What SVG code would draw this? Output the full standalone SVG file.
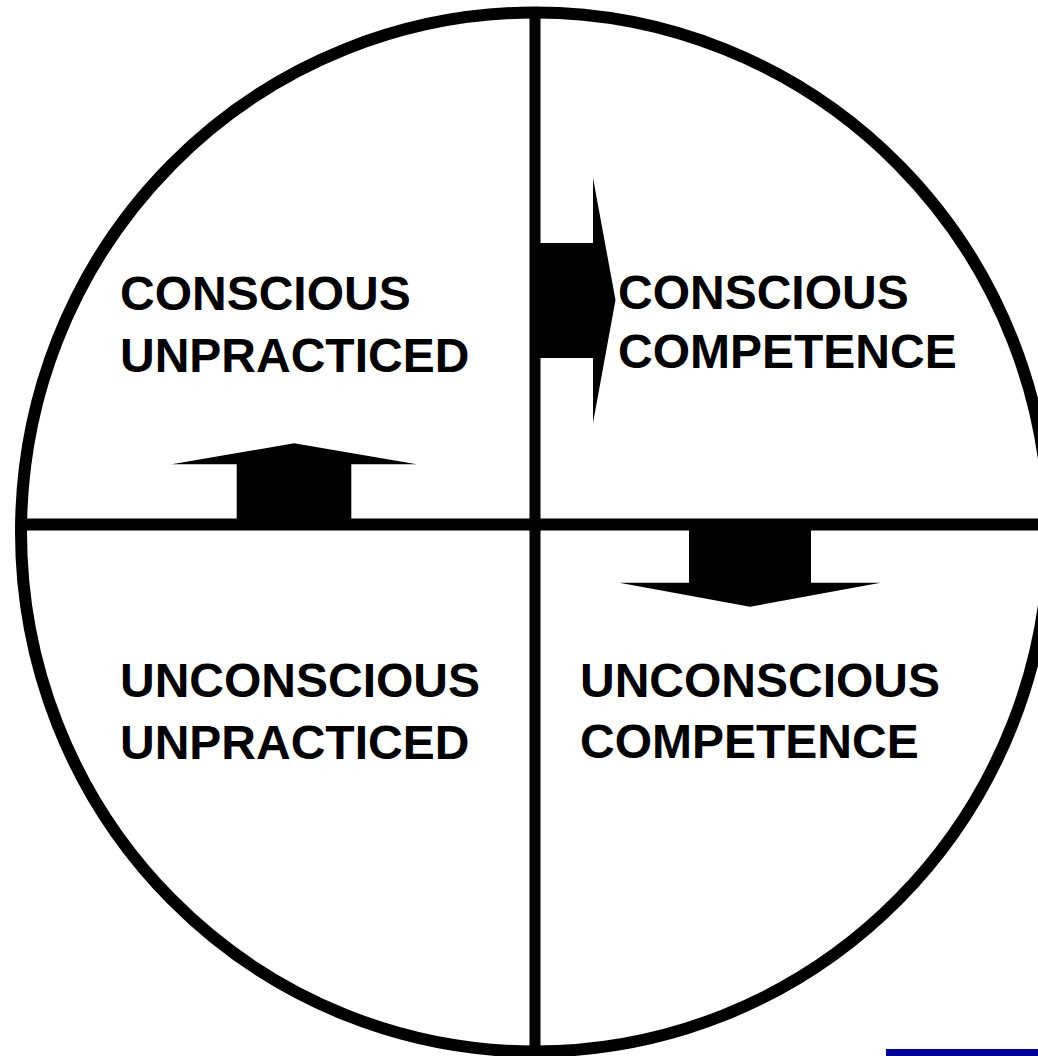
<svg xmlns="http://www.w3.org/2000/svg" width="1038" height="1056" viewBox="0 0 1038 1056">
<style>
.lbl{font-family:"Liberation Sans",Arial,sans-serif;font-weight:bold;font-size:48px;fill:#000}
.ln{stroke:#000;fill:none}
.arr{fill:#000;stroke:none}
</style>
<rect x="0" y="0" width="1038" height="1056" fill="#fff"/>
<g id="frame">
<ellipse class="ln" cx="535" cy="532" rx="514" ry="519.5" stroke-width="12"/>
<line class="ln" x1="535" y1="13" x2="535" y2="1052" stroke-width="11"/>
<line class="ln" x1="22" y1="524.5" x2="1038" y2="524.5" stroke-width="12"/>
</g>
<g id="connectors">
<polygon class="arr" points="535,243 593,243 593,178 615.5,300 593,423 593,358 535,358"/>
<polygon class="arr" points="236.7,524 236.7,464.3 171.7,464.3 294,443.3 416.7,464.3 351.3,464.3 351.3,524"/>
<polygon class="arr" points="689,524 689,582.7 619.3,582.7 750,606.7 880.7,582.7 811,582.7 811,524"/>
</g>
<g id="conscious-unpracticed">
<text class="lbl" x="120" y="310">CONSCIOUS</text>
<text class="lbl" x="120" y="372">UNPRACTICED</text>
</g>
<g id="conscious-competence">
<text class="lbl" x="618" y="309">CONSCIOUS</text>
<text class="lbl" x="618" y="368">COMPETENCE</text>
</g>
<g id="unconscious-unpracticed">
<text class="lbl" x="120" y="697">UNCONSCIOUS</text>
<text class="lbl" x="120" y="759">UNPRACTICED</text>
</g>
<g id="unconscious-competence">
<text class="lbl" x="580" y="697">UNCONSCIOUS</text>
<text class="lbl" x="580" y="758">COMPETENCE</text>
</g>
<rect id="bar" x="886" y="1049" width="152" height="7" fill="#000099"/>
</svg>
